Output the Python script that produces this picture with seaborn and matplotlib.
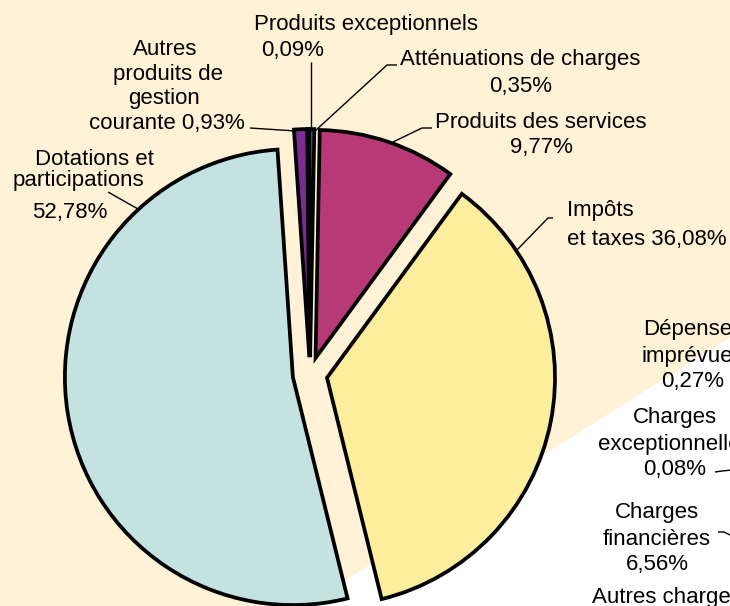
import matplotlib
matplotlib.use("Agg")
import matplotlib.pyplot as plt
from matplotlib.patches import Polygon
import seaborn as sns

# slices, clockwise from the top of the pie
categories = ["Atténuations de charges", "Produits des services", "Impôts et taxes",
              "Dotations et participations", "Autres produits de gestion courante",
              "Produits exceptionnels"]
shares = [0.35, 9.77, 36.08, 52.78, 0.93, 0.09]
colors = ["#3F6FB5", "#B73A77", "#FCEE9C", "#C3E2E0", "#7A2C90", "#1F3F7A"]

# labels of the second (cropped) pie on the right
right_labels = [["Dépenses", "imprévues", "0,27%"],
                ["Charges", "exceptionnelles", "0,08%"],
                ["Charges", "financières", "6,56%"]]


def pct(v):
    return f"{v:.2f}".replace(".", ",") + "%"


BG = "#FFF2D6"
W, H = 730, 606
CX, CY, R = 310, 374.4, 228


def px(x, y):
    # pixel position (from top left) -> data coords
    return (x - CX) / R, (CY - y) / R


sns.set_style("white")
plt.rcParams["font.family"] = ["Liberation Sans", "DejaVu Sans"]

fig = plt.figure(figsize=(7.3, 6.06), dpi=100, facecolor=BG)
ax = fig.add_axes([0, 0, 1, 1])
ax.set_facecolor(BG)

# white panel of the neighbouring chart
tri = [px(298, 610), px(740, 331), px(740, 610)]
ax.add_patch(Polygon(tri, closed=True, facecolor="white", edgecolor="none", zorder=0))

ax.pie(shares, colors=colors, startangle=90.2, counterclock=False,
       explode=[0.076] * len(shares), radius=1,
       wedgeprops=dict(edgecolor="black", linewidth=2.7, joinstyle="miter"))
ax.set_xlim(-CX / R, (W - CX) / R)
ax.set_ylim((CY - H) / R, CY / R)
ax.set_aspect("equal")
ax.axis("off")

fs = 16


def line(txt, x, y, ha="center"):
    ax.text(*px(x, y), txt, ha=ha, va="baseline", fontsize=fs, color="black", zorder=5)


def leader(pts):
    xs, ys = zip(*[px(*p) for p in pts])
    ax.plot(xs, ys, color="black", lw=1.0, zorder=4, solid_capstyle="butt")


# Produits exceptionnels
line(categories[5], 366, 30)
line(pct(shares[5]), 293, 56)
leader([(311, 62), (311, 131)])

# Atténuations de charges
line(categories[0], 520, 65)
line(pct(shares[0]), 521, 92)
leader([(397, 65), (387, 65), (315, 131)])

# Produits des services
line(categories[1], 541, 128)
line(pct(shares[1]), 541, 153)
leader([(432, 128), (422, 128), (393, 142)])

# Impôts et taxes
line("Impôts", 567, 216, ha="left")
line("et taxes " + pct(shares[2]), 567, 245, ha="left")
leader([(553, 218), (548, 218), (515, 252)])

# Dotations et participations
line("Dotations et", 94, 165)
line("participations", 78, 186)
line(pct(shares[3]), 70, 218)
leader([(108, 192), (138, 209)])

# Autres produits de gestion courante
line("Autres", 165, 55)
line("produits de", 168, 80)
line("gestion", 164, 104)
line("courante " + pct(shares[4]), 167, 129)
leader([(250, 128), (296, 131)])

# right-hand chart labels (cut by the frame, as in the source)
for lines_, cx, bases in zip(right_labels, [693, 675, 657],
                             [[335, 362, 387], [423, 450, 475], [518, 545, 570]]):
    for t, b in zip(lines_, bases):
        line(t, cx, b)
leader([(715, 472), (722, 471), (732, 470)])
leader([(718, 532), (724, 532), (732, 536)])
line("Autres charges", 592, 603, ha="left")

fig.savefig("out.png", dpi=100, facecolor=BG)
